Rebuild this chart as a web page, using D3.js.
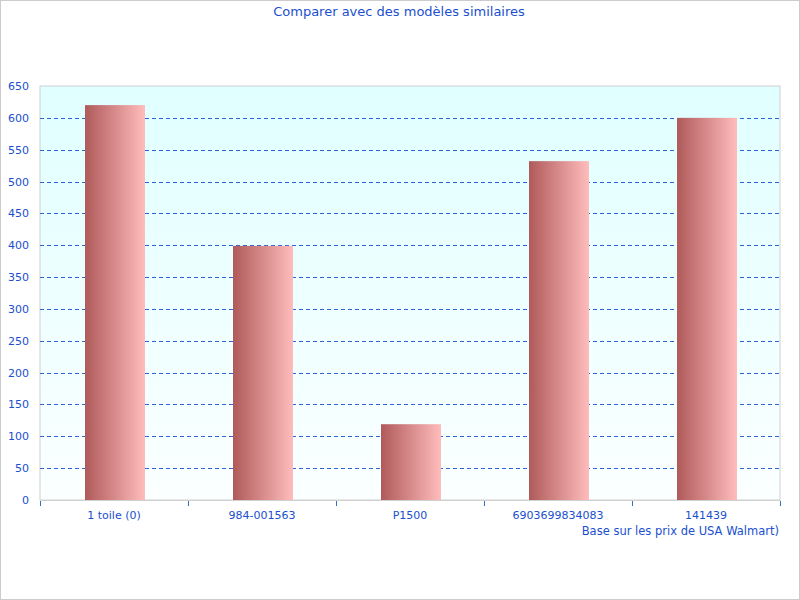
<!DOCTYPE html>
<html><head><meta charset="utf-8">
<script src="https://cdn.jsdelivr.net/npm/d3@7"></script>
<style>body{margin:0;background:#fff}svg{display:block}text{font-family:"DejaVu Sans",Verdana,sans-serif}</style>
</head><body>
<script>
const categories = ["1 toile (0)", "984-001563", "P1500", "6903699834083", "141439"];
const values = [620, 399, 119, 532, 600];
const yTicks = [0,50,100,150,200,250,300,350,400,450,500,550,600,650];
const title = "Comparer avec des modèles similaires";
const xTitle = "Base sur les prix de USA Walmart)";

const W = 800, H = 600;
const m = {left: 40, right: 20, top: 86, bottom: 100};
const svg = d3.select("body").append("svg").attr("width", W).attr("height", H);
const defs = svg.append("defs");
const bg = defs.append("linearGradient").attr("id","bg").attr("x1",0).attr("y1",0).attr("x2",0).attr("y2",1);
bg.append("stop").attr("offset","0%").attr("stop-color","#e0ffff");
bg.append("stop").attr("offset","100%").attr("stop-color","#fbffff");
const bar = defs.append("linearGradient").attr("id","bar").attr("x1",0).attr("y1",0).attr("x2",1).attr("y2",0);
bar.append("stop").attr("offset","0%").attr("stop-color","#b05a5a");
bar.append("stop").attr("offset","100%").attr("stop-color","#ffbcbc");

svg.append("rect").attr("x",0.5).attr("y",0.5).attr("width",W-1).attr("height",H-1).attr("fill","#fff").attr("stroke","#cccccc");

const x = d3.scaleBand().domain(categories).range([m.left, W - m.right]).paddingInner(0).paddingOuter(0);
const y = d3.scaleLinear().domain([0,650]).range([H - m.bottom, m.top]);

svg.append("rect").attr("x", m.left).attr("y", m.top).attr("width", W-m.right-m.left).attr("height", H-m.bottom-m.top)
  .attr("fill","url(#bg)").attr("stroke","#d0d0d0");

const blue = "#1a4fcf";
svg.append("g").selectAll("line").data(yTicks.filter(d=>d>0 && d<650)).join("line")
  .attr("x1", m.left).attr("x2", W-m.right).attr("y1", d=>Math.round(y(d))+0.5).attr("y2", d=>Math.round(y(d))+0.5)
  .attr("stroke","#2f62d4").attr("stroke-dasharray","4,3");

const bw = 60;
svg.append("g").selectAll("rect").data(values).join("rect")
  .attr("x",(d,i)=>x(categories[i]) + x.bandwidth()/2 - bw/2 + 1)
  .attr("y", d=>y(d)).attr("width", bw).attr("height", d=>y(0)-y(d)).attr("fill","url(#bar)");

const yAxis = svg.append("g").attr("transform",`translate(${m.left},0)`)
  .call(d3.axisLeft(y).tickValues(yTicks).tickSize(0).tickPadding(11));
yAxis.select(".domain").remove();
yAxis.selectAll("text").attr("fill", blue).attr("font-size", 11).attr("font-family","DejaVu Sans");

const xAxis = svg.append("g").attr("transform",`translate(0,${H-m.bottom})`)
  .call(d3.axisBottom(x).tickSize(0).tickPadding(11));
xAxis.select(".domain").attr("stroke","#d0d0d0");
xAxis.selectAll("text").attr("fill", blue).attr("font-size", 11).attr("font-family","DejaVu Sans");
const bounds = categories.map(c=>x(c)).concat([W-m.right]);
svg.append("g").selectAll("line").data(bounds).join("line")
  .attr("x1",d=>d+0.5).attr("x2",d=>d+0.5).attr("y1",H-m.bottom+1).attr("y2",H-m.bottom+6).attr("stroke","#3070d0");

svg.append("text").attr("x", W-m.right-1).attr("y", 535).attr("text-anchor","end")
  .attr("fill", blue).attr("font-size", 11.5).text(xTitle);
svg.append("text").attr("x", 399).attr("y", 16).attr("text-anchor","middle")
  .attr("fill", blue).attr("font-size", 13).attr("font-family","DejaVu Sans Condensed, DejaVu Sans").text(title);
</script>
</body></html>
